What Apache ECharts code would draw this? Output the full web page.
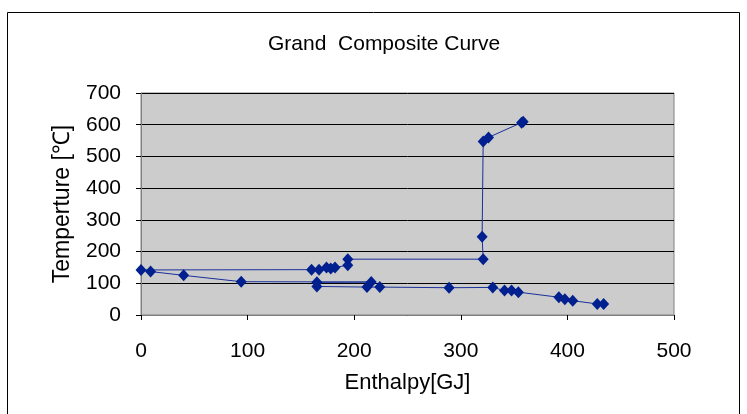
<!DOCTYPE html>
<html>
<head>
<meta charset="utf-8">
<script src="https://cdn.jsdelivr.net/npm/echarts@6/dist/echarts.min.js"></script>
<style>
  html, body { margin: 0; padding: 0; background: #fff; }
  #echarts { width: 747px; height: 414px; }
</style>
</head>
<body>
<div id="echarts"></div>
<script>
const chartDom = document.getElementById('echarts');
const myChart = echarts.init(chartDom);

// 焓 [GJ]
const enthalpy = [358.5, 357, 326, 321, 320, 321, 194, 194, 182, 178, 174, 167, 160, 0, 9, 40, 94, 216, 165, 165, 212, 224, 289, 330, 341, 347.6, 354, 392, 397.6, 405, 428, 434];
// 温度 [°C]
const temperature = [609, 606, 560, 547, 247, 176, 176, 157, 150, 147, 150, 143, 143, 142, 137, 125, 105, 104, 103, 90, 88, 88, 86, 87, 77, 77, 72, 56, 50, 45, 35, 35];
const xTicks = [0, 500, 100];
const yTicks = [0, 700, 100];

const points = enthalpy.map((x, i) => [x, temperature[i]]);
const font = '"Liberation Sans", Arial, sans-serif';

let option = {
    animation: false,
    title: {
        text: 'Grand  Composite Curve',
        left: 263,
        top: 29,
        textStyle: { fontFamily: font, fontWeight: 'normal', fontSize: 21, color: '#000' }
    },
    graphic: [{
        type: 'rect',
        shape: { x: 7.5, y: 12.5, width: 732, height: 420 },
        style: { fill: 'none', stroke: '#000', lineWidth: 1 }
    }],
    grid: {
        left: 141, right: 73, top: 93, bottom: 99,
        show: true,
        backgroundColor: '#cccccc',
        borderColor: '#808080',
        borderWidth: 1
    },
    xAxis: {
        type: 'value',
        min: xTicks[0], max: xTicks[1], interval: xTicks[2],
        name: 'Enthalpy[GJ]',
        nameLocation: 'middle',
        nameGap: 57,
        nameTextStyle: { fontFamily: font, fontSize: 22, color: '#000' },
        axisLine: { lineStyle: { color: '#808080' } },
        axisTick: { show: true, inside: false, length: 5, lineStyle: { color: '#000' } },
        axisLabel: { fontFamily: font, fontSize: 21, color: '#000', margin: 26 },
        splitLine: { show: false }
    },
    yAxis: {
        type: 'value',
        min: yTicks[0], max: yTicks[1], interval: yTicks[2],
        name: 'Temperture [℃]',
        nameLocation: 'middle',
        nameGap: 67,
        nameTextStyle: { fontFamily: font, fontSize: 23, color: '#000' },
        axisLine: { show: true, lineStyle: { color: '#808080' } },
        axisTick: { show: true, length: 5, lineStyle: { color: '#000' } },
        axisLabel: { fontFamily: font, fontSize: 21, color: '#000', margin: 20 },
        splitLine: { show: true, lineStyle: { color: '#000', width: 1 } }
    },
    series: [{
        type: 'line',
        data: points,
        symbol: 'diamond',
        symbolSize: [11, 12],
        showAllSymbol: true,
        lineStyle: { color: '#1a2f9a', width: 1 },
        itemStyle: { color: '#00208f' }
    }]
};
option && myChart.setOption(option);
</script>
</body>
</html>
